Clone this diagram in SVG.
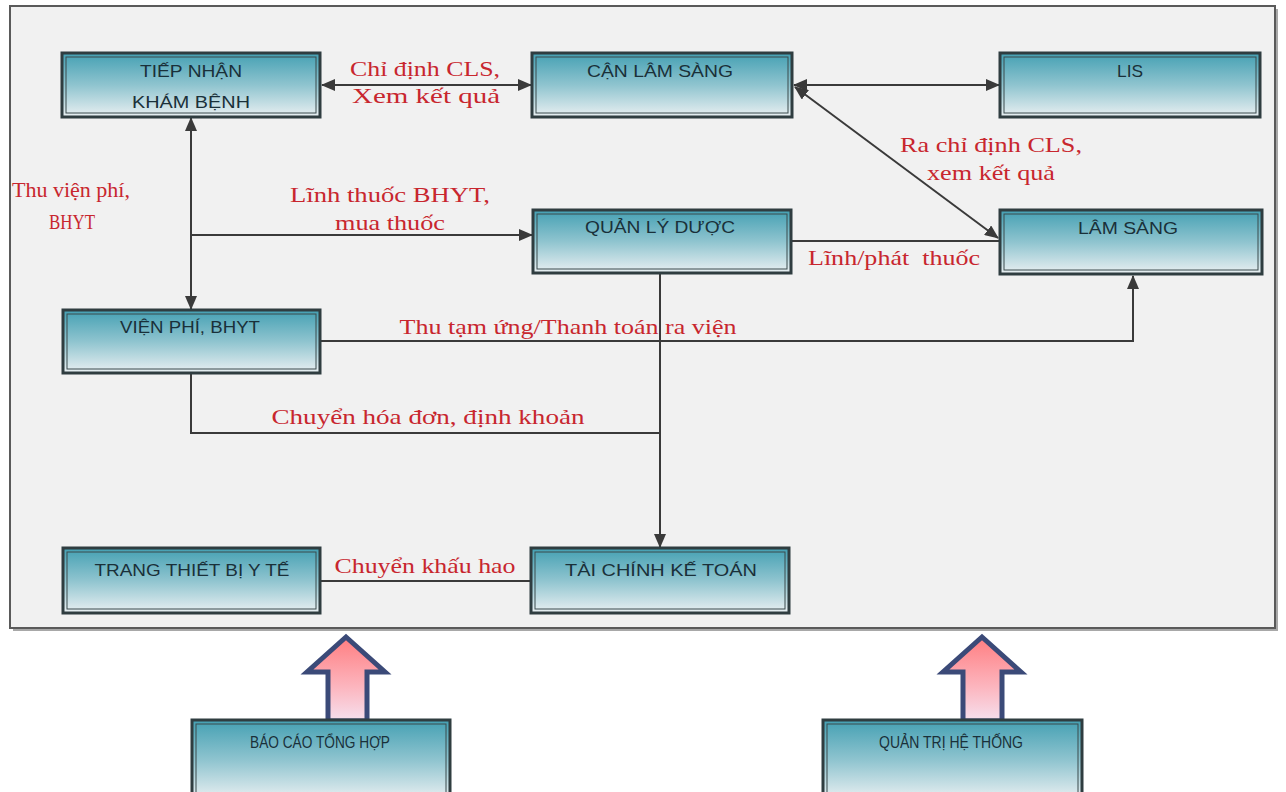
<svg xmlns="http://www.w3.org/2000/svg" width="1286" height="792" viewBox="0 0 1286 792">
<defs>
<linearGradient id="boxg" x1="0" y1="0" x2="0" y2="1">
<stop offset="0" stop-color="#44a0b3"/>
<stop offset="0.5" stop-color="#8fc4cf"/>
<stop offset="1" stop-color="#eaf0f2"/>
</linearGradient>
<linearGradient id="bigg" x1="0" y1="0" x2="0" y2="1">
<stop offset="0" stop-color="#ff7d80"/>
<stop offset="0.6" stop-color="#fcb6bf"/>
<stop offset="1" stop-color="#f6e0ee"/>
</linearGradient>
<marker id="ah" viewBox="0 0 14 12" refX="13" refY="6" markerWidth="14" markerHeight="12" markerUnits="userSpaceOnUse" orient="auto-start-reverse">
<path d="M0,0 L14,6 L0,12 Z" fill="#3a3a3a"/>
</marker>
<style>
.box{fill:url(#boxg);stroke:#2f3d40;stroke-width:3}
.inner{fill:none;stroke:#3a4a4d;stroke-width:1}
.nt{font-family:"Liberation Sans",Arial,sans-serif;font-size:17px;fill:#1a3039;text-anchor:middle}
.lb{font-family:"Liberation Serif","Times New Roman",serif;font-size:22px;fill:#c8262e;text-anchor:middle;white-space:pre}
.ln{fill:none;stroke:#3a3a3a;stroke-width:2}
.big{fill:url(#bigg);stroke:#3b4a78;stroke-width:5;stroke-linejoin:miter}
</style>
</defs>

<!-- outer frame -->
<rect x="13" y="9" width="1265" height="622" fill="#a8a8a8"/>
<rect x="10" y="6" width="1265" height="622" fill="#f1f1f1" stroke="#5a5a5a" stroke-width="2"/>

<g id="connectors">
<line class="ln" x1="322" y1="85" x2="531" y2="85" marker-start="url(#ah)" marker-end="url(#ah)"/>
<line class="ln" x1="794" y1="85" x2="999" y2="85" marker-start="url(#ah)" marker-end="url(#ah)"/>
<line class="ln" x1="795" y1="87" x2="998" y2="238" marker-start="url(#ah)" marker-end="url(#ah)"/>
<line class="ln" x1="191" y1="118" x2="191" y2="309" marker-start="url(#ah)" marker-end="url(#ah)"/>
<line class="ln" x1="191" y1="235" x2="532" y2="235" marker-end="url(#ah)"/>
<line class="ln" x1="792" y1="241" x2="1000" y2="241"/>
<polyline class="ln" points="321,341 1133,341 1133,276" marker-end="url(#ah)"/>
<polyline class="ln" points="191,374 191,433 660,433"/>
<line class="ln" x1="660" y1="274" x2="660" y2="547" marker-end="url(#ah)"/>
<line class="ln" x1="321" y1="581" x2="530" y2="581"/>
</g>

<g id="labels">
<text class="lb" x="425" y="76" textLength="150" lengthAdjust="spacingAndGlyphs">Chỉ định CLS,</text>
<text class="lb" x="426" y="103" textLength="148" lengthAdjust="spacingAndGlyphs">Xem kết quả</text>
<text class="lb" x="71" y="197" textLength="118" lengthAdjust="spacingAndGlyphs">Thu viện phí,</text>
<text class="lb" x="72" y="229" textLength="46" lengthAdjust="spacingAndGlyphs">BHYT</text>
<text class="lb" x="390" y="202" textLength="200" lengthAdjust="spacingAndGlyphs">Lĩnh thuốc BHYT,</text>
<text class="lb" x="390" y="230" textLength="110" lengthAdjust="spacingAndGlyphs">mua thuốc</text>
<text class="lb" x="991" y="152" textLength="182" lengthAdjust="spacingAndGlyphs">Ra chỉ định CLS,</text>
<text class="lb" x="991" y="180" textLength="128" lengthAdjust="spacingAndGlyphs">xem kết quả</text>
<text class="lb" x="894" y="265" textLength="172" lengthAdjust="spacingAndGlyphs">Lĩnh/phát  thuốc</text>
<text class="lb" x="568" y="334" textLength="337" lengthAdjust="spacingAndGlyphs">Thu tạm ứng/Thanh toán ra viện</text>
<text class="lb" x="428" y="424" textLength="313" lengthAdjust="spacingAndGlyphs">Chuyển hóa đơn, định khoản</text>
<text class="lb" x="425" y="573" textLength="181" lengthAdjust="spacingAndGlyphs">Chuyển khấu hao</text>
</g>

<g id="n-tiepnhan">
<rect class="box" x="62" y="53" width="258" height="64"/>
<rect class="inner" x="66" y="57" width="250" height="56"/>
<text class="nt" x="191" y="77" textLength="102" lengthAdjust="spacingAndGlyphs">TIẾP NHẬN</text>
<text class="nt" x="191" y="108" textLength="118" lengthAdjust="spacingAndGlyphs">KHÁM BỆNH</text>
</g>
<g id="n-canlamsang">
<rect class="box" x="532" y="53" width="260" height="64"/>
<rect class="inner" x="536" y="57" width="252" height="56"/>
<text class="nt" x="660" y="77" textLength="146" lengthAdjust="spacingAndGlyphs">CẬN LÂM SÀNG</text>
</g>
<g id="n-lis">
<rect class="box" x="1000" y="53" width="260" height="64"/>
<rect class="inner" x="1004" y="57" width="252" height="56"/>
<text class="nt" x="1130" y="77" textLength="26" lengthAdjust="spacingAndGlyphs">LIS</text>
</g>
<g id="n-quanlyduoc">
<rect class="box" x="533" y="210" width="258" height="63"/>
<rect class="inner" x="537" y="214" width="250" height="55"/>
<text class="nt" x="660" y="233" textLength="150" lengthAdjust="spacingAndGlyphs">QUẢN LÝ DƯỢC</text>
</g>
<g id="n-lamsang">
<rect class="box" x="1000" y="210" width="262" height="64"/>
<rect class="inner" x="1004" y="214" width="254" height="56"/>
<text class="nt" x="1128" y="234" textLength="100" lengthAdjust="spacingAndGlyphs">LÂM SÀNG</text>
</g>
<g id="n-vienphi">
<rect class="box" x="63" y="310" width="257" height="63"/>
<rect class="inner" x="67" y="314" width="249" height="55"/>
<text class="nt" x="190" y="333" textLength="140" lengthAdjust="spacingAndGlyphs">VIỆN PHÍ, BHYT</text>
</g>
<g id="n-trangthietbi">
<rect class="box" x="63" y="548" width="257" height="65"/>
<rect class="inner" x="67" y="552" width="249" height="57"/>
<text class="nt" x="192" y="576" textLength="195" lengthAdjust="spacingAndGlyphs">TRANG THIẾT BỊ Y TẾ</text>
</g>
<g id="n-taichinh">
<rect class="box" x="531" y="548" width="258" height="65"/>
<rect class="inner" x="535" y="552" width="250" height="57"/>
<text class="nt" x="661" y="576" textLength="192" lengthAdjust="spacingAndGlyphs">TÀI CHÍNH KẾ TOÁN</text>
</g>

<g id="bigarrows">
<polygon class="big" points="346,637 385,672 367,672 367,721 328,721 328,672 307,672"/>
<polygon class="big" points="982,637 1021,672 1002,672 1002,721 963,721 963,672 943,672"/>
</g>

<g id="n-baocao">
<rect class="box" x="192" y="720" width="258" height="80"/>
<rect class="inner" x="196" y="724" width="250" height="72"/>
<text class="nt" x="320" y="748" textLength="140" lengthAdjust="spacingAndGlyphs">BÁO CÁO TỔNG HỢP</text>
</g>
<g id="n-quantri">
<rect class="box" x="823" y="720" width="259" height="80"/>
<rect class="inner" x="827" y="724" width="251" height="72"/>
<text class="nt" x="951" y="748" textLength="144" lengthAdjust="spacingAndGlyphs">QUẢN TRỊ HỆ THỐNG</text>
</g>
</svg>
